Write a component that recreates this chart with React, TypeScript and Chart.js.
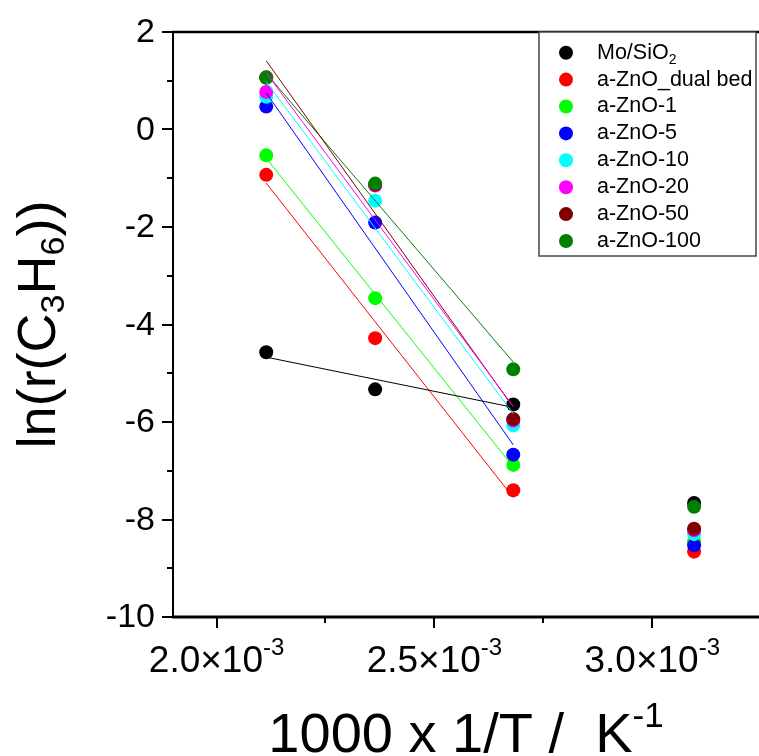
import React, { useEffect, useRef } from "react";
import { Chart, registerables } from "chart.js";
Chart.register(...registerables);

// x values: 1/T (K^-1)
const xValues = [2.114e-3, 2.364e-3, 2.681e-3, 3.096e-3];
const seriesNames = ["Mo/SiO", "a-ZnO_dual bed", "a-ZnO-1", "a-ZnO-5", "a-ZnO-10", "a-ZnO-20", "a-ZnO-50", "a-ZnO-100"];
const seriesSubs = ["2", "", "", "", "", "", "", ""];
const seriesColors = ["#000000", "#ff0000", "#00ff00", "#0000ff", "#00ffff", "#ff00ff", "#800000", "#008000"];

const moSiO2 = [-4.57, -5.33, -5.64, -7.66];
const dualBed = [-0.93, -4.28, -7.4, -8.66];
const zno1 = [-0.53, -3.46, -6.88, -8.45];
const zno5 = [0.47, -1.91, -6.67, -8.53];
const zno10 = [0.67, -1.46, -6.07, -8.3];
const zno20 = [0.77, -1.15, -5.97, -8.22];
const zno50 = [1.07, -1.13, -5.94, -8.19];
const zno100 = [1.06, -1.11, -4.92, -7.74];
const seriesValues = [moSiO2, dualBed, zno1, zno5, zno10, zno20, zno50, zno100];

// linear fit lines (start / end)
const fitX = [2.114e-3, 2.681e-3];
const fitMo = [-4.67, -5.7];
const fitDual = [-1.1, -7.55];
const fitZ1 = [-0.59, -6.92];
const fitZ5 = [0.75, -6.47];
const fitZ10 = [0.98, -5.83];
const fitZ20 = [1.16, -5.68];
const fitZ50 = [1.41, -5.7];
const fitZ100 = [1.15, -4.77];
const fitValues = [fitMo, fitDual, fitZ1, fitZ5, fitZ10, fitZ20, fitZ50, fitZ100];

const yMajorTicks = [-10, -8, -6, -4, -2, 0, 2];
const yMinorTicks = [-9, -7, -5, -3, -1, 1];
const xMajorTicks = [2.0e-3, 2.5e-3, 3.0e-3];
const xMajorLabels = ["2.0×10", "2.5×10", "3.0×10"];
const xTickExp = "-3";
const xMinorTicks = [2.25e-3, 2.75e-3];

const FONT = "'Liberation Sans', Arial, Helvetica, sans-serif";

const drawPlugin = {
  id: "customAxes",
  afterDraw(chart: any) {
    const ctx: CanvasRenderingContext2D = chart.ctx;
    const xs = chart.scales.x;
    const ys = chart.scales.y;
    const area = chart.chartArea;
    ctx.save();
    ctx.fillStyle = "#000";
    ctx.strokeStyle = "#000";

    // axis lines
    ctx.lineWidth = 2;
    ctx.beginPath();
    ctx.moveTo(area.left, area.top - 1);
    ctx.lineTo(area.left, area.bottom);
    ctx.stroke();
    ctx.lineWidth = 3;
    ctx.beginPath();
    ctx.moveTo(area.left - 1, area.bottom);
    ctx.lineTo(area.right, area.bottom);
    ctx.stroke();
    ctx.lineWidth = 2.5;
    ctx.beginPath();
    ctx.moveTo(area.left - 1, area.top);
    ctx.lineTo(area.right, area.top);
    ctx.stroke();

    // y ticks
    ctx.lineWidth = 2;
    for (const v of yMajorTicks) {
      const py = Math.round(ys.getPixelForValue(v));
      ctx.beginPath();
      ctx.moveTo(area.left - 11, py);
      ctx.lineTo(area.left, py);
      ctx.stroke();
    }
    for (const v of yMinorTicks) {
      const py = Math.round(ys.getPixelForValue(v));
      ctx.beginPath();
      ctx.moveTo(area.left - 6, py);
      ctx.lineTo(area.left, py);
      ctx.stroke();
    }
    // x ticks
    for (const v of xMajorTicks) {
      const px = Math.round(xs.getPixelForValue(v));
      ctx.beginPath();
      ctx.moveTo(px, area.bottom);
      ctx.lineTo(px, area.bottom + 11);
      ctx.stroke();
    }
    for (const v of xMinorTicks) {
      const px = Math.round(xs.getPixelForValue(v));
      ctx.beginPath();
      ctx.moveTo(px, area.bottom);
      ctx.lineTo(px, area.bottom + 6);
      ctx.stroke();
    }

    // y tick labels
    ctx.font = `34px ${FONT}`;
    ctx.textAlign = "right";
    ctx.textBaseline = "middle";
    for (const v of yMajorTicks) {
      const py = ys.getPixelForValue(v);
      ctx.fillText(String(v), area.left - 18, py + 1);
    }

    // x tick labels with superscript
    ctx.textAlign = "left";
    ctx.textBaseline = "alphabetic";
    xMajorTicks.forEach((v, i) => {
      const px = xs.getPixelForValue(v);
      ctx.font = `37px ${FONT}`;
      const w1 = ctx.measureText(xMajorLabels[i]).width;
      ctx.font = `24px ${FONT}`;
      const w2 = ctx.measureText(xTickExp).width;
      const x0 = px - (w1 + w2) / 2;
      ctx.font = `37px ${FONT}`;
      ctx.fillText(xMajorLabels[i], x0, area.bottom + 55);
      ctx.font = `24px ${FONT}`;
      ctx.fillText(xTickExp, x0 + w1, area.bottom + 38);
    });

    // x axis title
    {
      const main = "1000 x 1/T /  K";
      const sup = "-1";
      ctx.font = `56px ${FONT}`;
      const w1 = ctx.measureText(main).width;
      ctx.font = `35px ${FONT}`;
      const w2 = ctx.measureText(sup).width;
      const x0 = 466 - (w1 + w2) / 2;
      ctx.font = `56px ${FONT}`;
      ctx.fillText(main, x0, 752);
      ctx.font = `35px ${FONT}`;
      ctx.fillText(sup, x0 + w1, 727);
    }

    // y axis title (rotated)
    {
      const parts: [string, boolean][] = [["ln(r(C", false], ["3", true], ["H", false], ["6", true], ["))", false]];
      const bigF = `54px ${FONT}`;
      const smallF = `34px ${FONT}`;
      let total = 0;
      const widths = parts.map(([t, s]) => {
        ctx.font = s ? smallF : bigF;
        const w = ctx.measureText(t).width;
        total += w;
        return w;
      });
      ctx.save();
      ctx.translate(55, (area.top + area.bottom) / 2);
      ctx.rotate(-Math.PI / 2);
      let x = -total / 2;
      parts.forEach(([t, s], i) => {
        ctx.font = s ? smallF : bigF;
        ctx.fillText(t, x, s ? 9 : 0);
        x += widths[i];
      });
      ctx.restore();
    }

    // legend
    {
      const bx = 539, by = 32, bw = 217, bh = 224;
      ctx.fillStyle = "#fff";
      ctx.fillRect(bx, by, bw, bh);
      ctx.strokeStyle = "#444";
      ctx.lineWidth = 1.5;
      ctx.strokeRect(bx, by, bw, bh);
      ctx.textAlign = "left";
      ctx.textBaseline = "middle";
      seriesNames.forEach((name, i) => {
        const cy = 52.7 + i * 26.9;
        ctx.fillStyle = seriesColors[i];
        ctx.beginPath();
        ctx.arc(566, cy, 7, 0, Math.PI * 2);
        ctx.fill();
        ctx.fillStyle = "#000";
        ctx.font = `21.5px ${FONT}`;
        ctx.fillText(name, 597, cy);
        if (seriesSubs[i]) {
          const w = ctx.measureText(name).width;
          ctx.font = `14px ${FONT}`;
          ctx.fillText(seriesSubs[i], 597 + w, cy + 7);
        }
      });
    }
    ctx.restore();
  },
};

export default function App() {
  const ref = useRef<HTMLCanvasElement | null>(null);
  useEffect(() => {
    document.body.style.margin = "0";
    if (!ref.current) return;
    const datasets: any[] = [];
    seriesValues.forEach((vals, i) => {
      datasets.push({
        label: seriesNames[i] + seriesSubs[i],
        data: xValues.map((x, j) => ({ x, y: vals[j] })),
        backgroundColor: seriesColors[i],
        borderColor: seriesColors[i],
        borderWidth: 0,
        pointRadius: 7,
        pointHoverRadius: 7,
        showLine: false,
        order: 20 - i,
      });
    });
    fitValues.forEach((vals, i) => {
      datasets.push({
        label: "fit " + seriesNames[i],
        data: fitX.map((x, j) => ({ x, y: vals[j] })),
        borderColor: seriesColors[i],
        backgroundColor: seriesColors[i],
        borderWidth: 1,
        pointRadius: 0,
        showLine: true,
        order: 1,
      });
    });
    const chart = new Chart(ref.current, {
      type: "scatter",
      data: { datasets },
      options: {
        responsive: false,
        animation: false,
        devicePixelRatio: 1,
        layout: { autoPadding: false, padding: { top: 32, left: 0, right: 0, bottom: 0 } },
        plugins: { legend: { display: false }, tooltip: { enabled: false } },
        scales: {
          x: {
            type: "linear",
            min: 1.9e-3,
            max: 3.245e-3,
            grid: { display: false },
            border: { display: false },
            ticks: { display: false },
            afterFit: (s: any) => {
              s.height = 139;
            },
          },
          y: {
            type: "linear",
            min: -10,
            max: 2,
            grid: { display: false },
            border: { display: false },
            ticks: { display: false },
            afterFit: (s: any) => {
              s.width = 173;
            },
          },
        },
      } as any,
      plugins: [drawPlugin],
    });
    return () => chart.destroy();
  }, []);
  return (
    <div style={{ position: "absolute", left: 0, top: 0, width: 759, height: 756, background: "#fff" }}>
      <canvas ref={ref} width={759} height={756} />
    </div>
  );
}
